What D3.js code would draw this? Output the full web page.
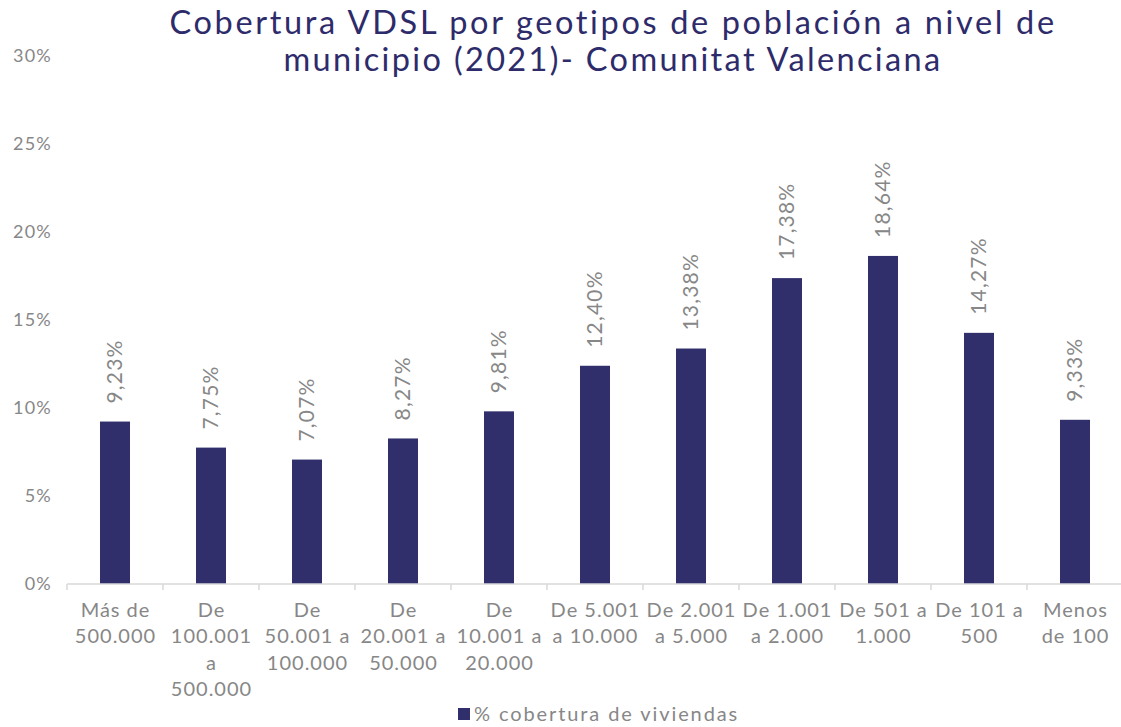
<!DOCTYPE html>
<html>
<head>
<meta charset="utf-8">
<script src="https://cdn.jsdelivr.net/npm/d3@7"></script>
<style>
  html, body { margin: 0; padding: 0; background: #fff; }
  svg { display: block; font-family: Lato, "Noto Sans", sans-serif; font-weight: 400; font-variant-ligatures: none; }
</style>
</head>
<body>
<svg id="chart" width="1121" height="727"></svg>
<script>
const categories = [
  ["Más de", "500.000"],
  ["De", "100.001", "a", "500.000"],
  ["De", "50.001 a", "100.000"],
  ["De", "20.001 a", "50.000"],
  ["De", "10.001 a", "20.000"],
  ["De 5.001", "a 10.000"],
  ["De 2.001", "a 5.000"],
  ["De 1.001", "a 2.000"],
  ["De 501 a", "1.000"],
  ["De 101 a", "500"],
  ["Menos", "de 100"]
];
const values = [9.23, 7.75, 7.07, 8.27, 9.81, 12.40, 13.38, 17.38, 18.64, 14.27, 9.33];
const yTicks = [0, 5, 10, 15, 20, 25, 30];
const titleLines = ["Cobertura VDSL por geotipos de población a nivel de", "municipio (2021)- Comunitat Valenciana"];
const seriesName = "% cobertura de viviendas";

const BAR = "#312f6b";
const GRAY = "#878787";

const svg = d3.select("#chart");
const ids = categories.map((c, i) => i);

const x = d3.scaleBand().domain(ids).range([67, 1123]).paddingInner(0.6875).paddingOuter(0.34375);
const y = d3.scaleLinear().domain([0, 30]).range([584, 56]);

// title
const title = svg.append("g").attr("fill", "#2e2b6b")
  .style("font-size", "32.5px").style("font-weight", 400);
const titleWidths = [887, 659];
titleLines.forEach((t, i) => {
  title.append("text").attr("text-anchor", "middle").attr("x", 613).attr("y", i === 0 ? 34 : 71)
    .style("letter-spacing", "2.4px")
    .attr("textLength", titleWidths[i]).attr("lengthAdjust", "spacing").text(t);
});

// y tick labels
svg.append("g").selectAll("text").data(yTicks).join("text")
  .attr("x", 52).attr("y", d => y(d)).attr("dy", "0.35em")
  .attr("text-anchor", "end").attr("fill", GRAY).style("font-size", "18px")
  .style("letter-spacing", "1.2px")
  .text(d => d + "%");

// bars
svg.append("g").selectAll("rect").data(values).join("rect")
  .attr("x", (d, i) => x(i)).attr("width", x.bandwidth())
  .attr("y", d => y(d)).attr("height", d => y(0) - y(d))
  .attr("fill", BAR);

// x axis
const step = x.step();
const xAxis = d3.axisBottom(x).tickSize(0).tickFormat("");
const gx = svg.append("g").attr("transform", `translate(0,${y(0)})`).call(xAxis);
gx.select(".domain").attr("stroke", "#d9d9d9").attr("stroke-width", 1.5).attr("d", `M67,0H1123`);
const bounds = d3.range(categories.length + 1).map(i => 67 + i * step);
gx.selectAll(".sep").data(bounds).join("line").attr("class", "sep")
  .attr("x1", d => d).attr("x2", d => d).attr("y1", 0).attr("y2", 6)
  .attr("stroke", "#d9d9d9").attr("stroke-width", 1.5);

// x labels
const xl = svg.append("g").selectAll("text").data(categories).join("text")
  .attr("text-anchor", "middle").attr("fill", GRAY).style("font-size", "20px")
  .style("letter-spacing", "1px");
xl.each(function(lines, i) {
  const t = d3.select(this);
  lines.forEach((l, j) => {
    t.append("tspan").attr("x", x(i) + x.bandwidth() / 2 + 0.5).attr("y", 617 + j * 26.3).text(l);
  });
});

// value labels
svg.append("g").selectAll("text").data(values).join("text")
  .attr("transform", (d, i) => `translate(${x(i) + x.bandwidth() / 2},${y(d) - 18}) rotate(-90)`)
  .attr("dy", "0.35em").attr("text-anchor", "start").attr("fill", GRAY)
  .style("font-size", "21px").style("letter-spacing", "1.2px")
  .text(d => d.toFixed(2).replace(".", ",") + "%");

// legend
const lg = svg.append("g");
lg.append("rect").attr("x", 458).attr("y", 708).attr("width", 12).attr("height", 12).attr("fill", BAR);
lg.append("text").attr("x", 474).attr("y", 721).attr("fill", GRAY).style("font-size", "20px")
  .style("letter-spacing", "1.9px").text(seriesName);
</script>
</body>
</html>
